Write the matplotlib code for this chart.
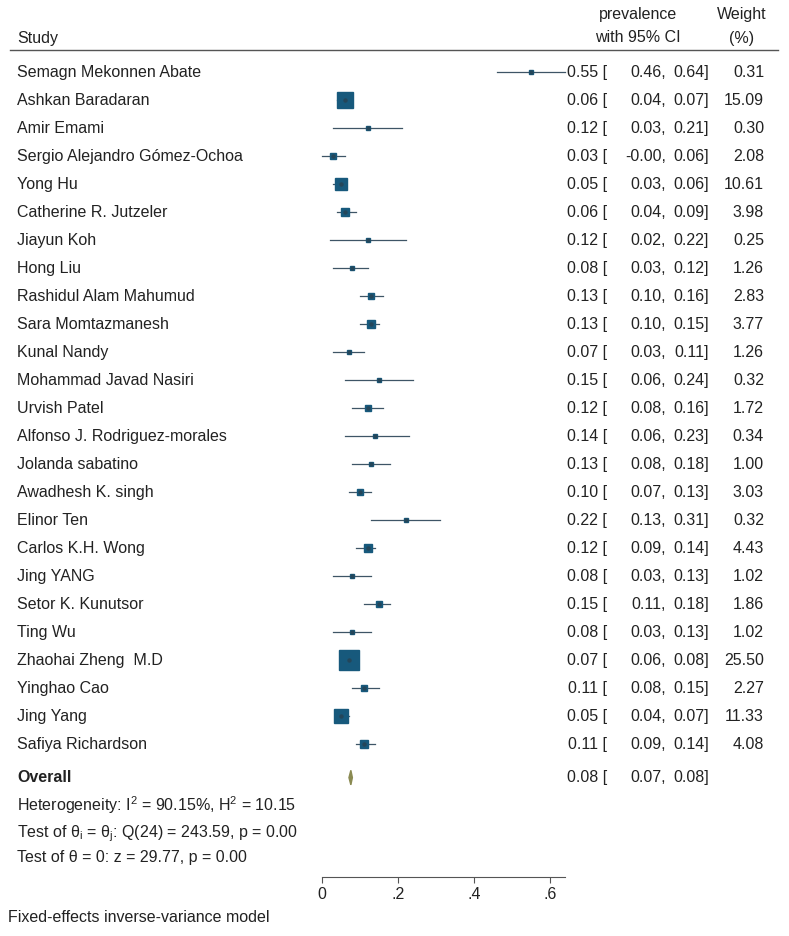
import matplotlib
matplotlib.use("Agg")
import matplotlib.pyplot as plt
from matplotlib.transforms import blended_transform_factory
import numpy as np

plt.rcParams['font.family'] = ['Liberation Sans', 'DejaVu Sans']
plt.rcParams['mathtext.fontset'] = 'custom'
plt.rcParams['mathtext.rm'] = 'Liberation Sans'
plt.rcParams['mathtext.it'] = 'Liberation Sans'

studies = ["Semagn Mekonnen Abate", "Ashkan Baradaran", "Amir Emami",
           "Sergio Alejandro Gómez-Ochoa", "Yong Hu", "Catherine R. Jutzeler",
           "Jiayun Koh", "Hong Liu", "Rashidul Alam Mahumud", "Sara Momtazmanesh",
           "Kunal Nandy", "Mohammad Javad Nasiri", "Urvish Patel",
           "Alfonso J. Rodriguez-morales", "Jolanda sabatino", "Awadhesh K. singh",
           "Elinor Ten", "Carlos K.H. Wong", "Jing YANG", "Setor K. Kunutsor",
           "Ting Wu", "Zhaohai Zheng  M.D", "Yinghao Cao", "Jing Yang",
           "Safiya Richardson"]
est = [0.55, 0.06, 0.12, 0.03, 0.05, 0.06, 0.12, 0.08, 0.13, 0.13, 0.07, 0.15, 0.12,
       0.14, 0.13, 0.10, 0.22, 0.12, 0.08, 0.15, 0.08, 0.07, 0.11, 0.05, 0.11]
lo = [0.46, 0.04, 0.03, -0.00, 0.03, 0.04, 0.02, 0.03, 0.10, 0.10, 0.03, 0.06, 0.08,
      0.06, 0.08, 0.07, 0.13, 0.09, 0.03, 0.11, 0.03, 0.06, 0.08, 0.04, 0.09]
hi = [0.64, 0.07, 0.21, 0.06, 0.06, 0.09, 0.22, 0.12, 0.16, 0.15, 0.11, 0.24, 0.16,
      0.23, 0.18, 0.13, 0.31, 0.14, 0.13, 0.18, 0.13, 0.08, 0.15, 0.07, 0.14]
weight = [0.31, 15.09, 0.30, 2.08, 10.61, 3.98, 0.25, 1.26, 2.83, 3.77, 1.26, 0.32, 1.72,
          0.34, 1.00, 3.03, 0.32, 4.43, 1.02, 1.86, 1.02, 25.50, 2.27, 11.33, 4.08]
overall = (0.076, 0.071, 0.080)
x_ticks = [0, 0.2, 0.4, 0.6]
x_ticklabels = ["0", ".2", ".4", ".6"]

W, H = 789, 936
fig = plt.figure(figsize=(W / 100, H / 100), dpi=100)

# plot area: x pixels 322..565, axis line at y=877, header line at y=50
ax = fig.add_axes([322 / W, 1 - 877 / H, (565 - 322) / W, (877 - 50) / H])
ax.set_xlim(0, 0.64)
ax.set_ylim(28.75, -0.786)
ax.set_facecolor("none")
for s in ["top", "right", "left"]:
    ax.spines[s].set_visible(False)
ax.spines["bottom"].set_color("#555555")
ax.set_yticks([])
ax.set_xticks(x_ticks)
ax.set_xticklabels(x_ticklabels, fontsize=11.5, color="#222222")
ax.tick_params(axis="x", length=4, color="#555555", pad=3)

sq_color = "#17597c"
ci_color = "#3e5566"
n = len(studies)
rows = np.arange(n)
for i in range(n):
    ax.plot([lo[i], hi[i]], [rows[i], rows[i]], color=ci_color, lw=0.9, clip_on=False)
    side_px = 3.96 * np.sqrt(weight[i])
    ax.plot(est[i], rows[i], marker="s", markersize=max(side_px, 3.2) * 0.72,
            color=sq_color, mec=sq_color, clip_on=False)
    ax.plot(est[i], rows[i], marker="o", markersize=2.2, color="#24465a", clip_on=False)

# overall diamond
ov_row = n + 0.2
ax.fill([overall[1], overall[0], overall[2], overall[0]],
        [ov_row, ov_row - 0.26, ov_row, ov_row + 0.26],
        color="#8a8a52", clip_on=False)

tr = blended_transform_factory(fig.transFigure, ax.transData)
fs = 11.5
txt = "#222222"

def px(x):
    return x / W

def row_numbers(y, e, l, h):
    ax.text(px(607), y, f"{e:.2f} [", transform=tr, fontsize=fs, color=txt,
            va="center", ha="right")
    ax.text(px(666), y, f"{l:.2f},", transform=tr, fontsize=fs, color=txt,
            va="center", ha="right")
    ax.text(px(709), y, f"{h:.2f}]", transform=tr, fontsize=fs, color=txt,
            va="center", ha="right")

for i in range(n):
    ax.text(px(17), rows[i], studies[i], transform=tr, fontsize=fs, color=txt, va="center")
    row_numbers(rows[i], est[i], lo[i], hi[i])
    ax.text(px(764), rows[i], f"{weight[i]:.2f}", transform=tr, fontsize=fs, color=txt,
            va="center", ha="right")

ax.text(px(17), ov_row, "Overall", transform=tr, fontsize=fs, color=txt, va="center",
        fontweight="bold")
row_numbers(ov_row, *overall)

ax.text(px(17), 26.2, r"Heterogeneity: I$^2$ = 90.15%, H$^2$ = 10.15", transform=tr,
        fontsize=fs, color=txt, va="center")
ax.text(px(17), 27.2, r"Test of θ$_i$ = θ$_j$: Q(24) = 243.59, p = 0.00", transform=tr,
        fontsize=fs, color=txt, va="center")
ax.text(px(17), 28.05, "Test of θ = 0: z = 29.77, p = 0.00", transform=tr,
        fontsize=fs, color=txt, va="center")

# header
fig.text(px(638), 1 - 15 / H, "prevalence", fontsize=fs, color=txt, va="center", ha="center")
fig.text(px(638), 1 - 38 / H, "with 95% CI", fontsize=fs, color=txt, va="center", ha="center")
fig.text(px(742), 1 - 15 / H, "Weight", fontsize=fs, color=txt, va="center", ha="center")
fig.text(px(742), 1 - 38 / H, "(%)", fontsize=fs, color=txt, va="center", ha="center")
fig.text(px(17), 1 - 38 / H, "Study", fontsize=fs, color=txt, va="center")
fig.add_artist(plt.Line2D([px(10), px(778)], [1 - 50 / H, 1 - 50 / H],
                          transform=fig.transFigure, color="#555555", lw=1))

fig.text(px(8), 1 - 917 / H, "Fixed-effects inverse-variance model", fontsize=fs,
         color=txt, va="center")

fig.savefig("out.png", dpi=100, facecolor="white")
